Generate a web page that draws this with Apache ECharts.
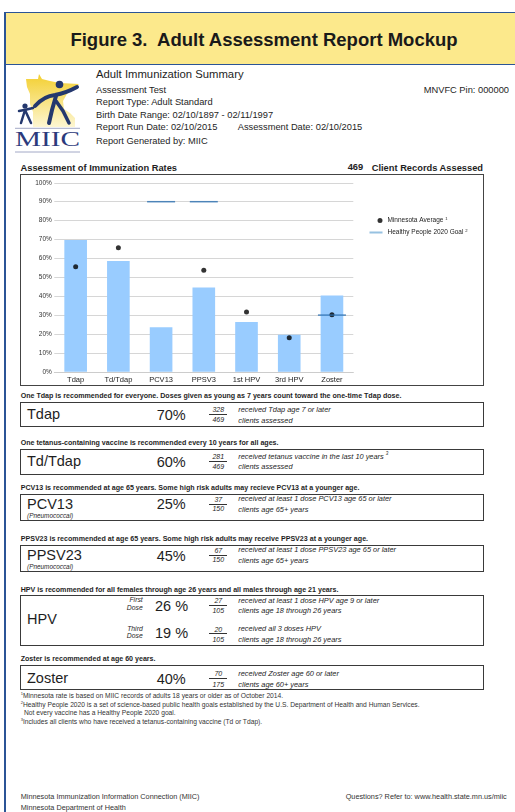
<!DOCTYPE html>
<html><head><meta charset="utf-8">
<script src="https://cdn.jsdelivr.net/npm/echarts@6/dist/echarts.min.js"></script>
<style>
html,body{margin:0;padding:0;background:#fff;}
#page{position:relative;width:515px;height:812px;overflow:hidden;font-family:'Liberation Sans',Arial,sans-serif;color:#1e1e1e;}
.t{position:absolute;white-space:nowrap;line-height:1;}
.box{position:absolute;left:19.5px;width:462px;border:1.5px solid #3a3a3a;}
.fl{position:absolute;height:0;border-top:0.9px solid #333;width:18px;}
</style></head>
<body><div id="page">
<div style="position:absolute;left:4px;top:11.5px;width:530px;height:51px;background:#fce98c;border:1.5px solid #2b5496;"></div>
<div style="position:absolute;left:4px;top:11.5px;width:1.5px;height:820px;background:#2b5496;"></div>
<svg style="position:absolute;left:0;top:0" width="100" height="160" viewBox="0 0 100 160">
<defs><linearGradient id="g" x1="0" y1="0" x2="0" y2="1"><stop offset="0" stop-color="#f3cf2f"/><stop offset="1" stop-color="#fdf6d2"/></linearGradient></defs>
<polygon fill="url(#g)" points="26,79 38,79 39,74 42,79 50,81 60,83 79,84 67,94 63,101 64,109 70,113 75,118 75,127 33,127 33,112 30,104 30,94 27,87"/>
<g fill="#24386e" stroke="#24386e">
<circle cx="59.5" cy="84.5" r="3.8" stroke="none"/>
<path d="M35,106 Q44,96 55,95 Q66,93 77,87" fill="none" stroke-width="4" stroke-linecap="round"/>
<path d="M56,96 L52,110 L49,123" fill="none" stroke-width="4" stroke-linecap="round"/>
<path d="M56,101 L63,111 L69,123" fill="none" stroke-width="3.5" stroke-linecap="round"/>
<circle cx="25" cy="106" r="2.6" stroke="none"/>
<path d="M19,111 Q25,110 33,108" fill="none" stroke-width="2.5" stroke-linecap="round"/>
<path d="M25,110 L21,123 M25,110 L31,123" fill="none" stroke-width="2.5" stroke-linecap="round"/>
</g>
<line x1="15" y1="128.3" x2="80" y2="128.3" stroke="#8a93b8" stroke-width="0.8"/>
<text x="15" y="146" font-family="Liberation Serif" font-size="22" fill="#2b3a7c" textLength="65" lengthAdjust="spacingAndGlyphs">MIIC</text>
<line x1="15" y1="152" x2="80" y2="152" stroke="#8a93b8" stroke-width="0.8"/>
</svg>
<div style="position:absolute;left:19.5px;top:174px;width:462px;height:210px;border:1.5px solid #444;"><div id="chart" style="width:462px;height:210px"></div></div>
</div>
<script>
const categories = ['Tdap', 'Td/Tdap', 'PCV13', 'PPSV3', '1st HPV', '3rd HPV', 'Zoster'];
const rateValues = [69.7, 58.6, 23.6, 44.6, 26.3, 19.6, 40.4];
const mnAverage = [55.6, 65.6, null, 53.7, 31.7, 18.0, 30.2];
const hp2020Goal = [null, null, 90, 90, null, null, 30];
const seriesNames = ['Minnesota Average', 'Healthy People 2020 Goal'];

const page = document.getElementById('page');
function T(x, y, s, size, o) {
  o = o || {};
  const d = document.createElement('div');
  d.className = 't';
  d.innerHTML = s;
  d.style.left = x + 'px';
  d.style.top = (y - size * 0.5) + 'px';
  d.style.fontSize = size + 'px';
  if (o.b) d.style.fontWeight = 'bold';
  if (o.i) d.style.fontStyle = 'italic';
  if (o.c) d.style.color = o.c;
  if (o.a === 'r') d.style.transform = 'translateX(-100%)';
  if (o.a === 'c') d.style.transform = 'translateX(-50%)';
  page.appendChild(d);
}
function B(top, bottom) {
  const d = document.createElement('div');
  d.className = 'box';
  d.style.top = top + 'px';
  d.style.height = (bottom - top - 3) + 'px';
  page.appendChild(d);
}
function F(num, den, yn, yl, yd) {
  T(218.3, yn, num, 7, {i: 1, a: 'c'});
  const l = document.createElement('div');
  l.className = 'fl';
  l.style.left = '209.3px';
  l.style.top = yl + 'px';
  page.appendChild(l);
  T(218.3, yd, den, 7, {i: 1, a: 'c'});
}
const sup = n => '<span style="font-size:60%;vertical-align:top;position:relative;top:-1px">' + n + '</span>';
const H = 7.1, D = 7.4, N = 14.5;

// Title + header
T(264, 40, 'Figure 3.&nbsp; Adult Assessment Report Mockup', 18.5, {b: 1, a: 'c', c: '#1a1a1a'});
T(96, 75, 'Adult Immunization Summary', 11.3);
T(96, 90.7, 'Assessment Test', 9.3);
T(96, 102.7, 'Report Type: Adult Standard', 9.3);
T(96, 115.3, 'Birth Date Range: 02/10/1897 - 02/11/1997', 9.3);
T(96, 127.7, 'Report Run Date: 02/10/2015', 9.3);
T(237.7, 127.7, 'Assessment Date: 02/10/2015', 9.3);
T(96, 141.7, 'Report Generated by: MIIC', 9.3);
T(509, 90.7, 'MNVFC Pin: 000000', 9.3, {a: 'r'});

T(20.5, 168.3, 'Assessment of Immunization Rates', 9.3, {b: 1});
T(347.7, 168, '469', 9.3, {b: 1});
T(483, 168.3, 'Client Records Assessed', 9.3, {b: 1, a: 'r'});

// Tdap
T(20.7, 397, 'One Tdap is recommended for everyone. Doses given as young as 7 years count toward the one-time Tdap dose.', H, {b: 1});
B(401.5, 427.5);
T(27, 414.5, 'Tdap', N); T(156.7, 415.5, '70%', N);
F('328', '469', 409.3, 414.3, 419.8);
T(238.3, 409.3, 'received Tdap age 7 or later', D, {i: 1});
T(238.3, 420.3, 'clients assessed', D, {i: 1});

// Td/Tdap
T(20.7, 443.5, 'One tetanus-containing vaccine is recommended every 10 years for all ages.', H, {b: 1});
B(448.5, 475.5);
T(27, 461.5, 'Td/Tdap', N); T(156.7, 462, '60%', N);
F('281', '469', 456.5, 461, 466.3);
T(238.3, 456.5, 'received tetanus vaccine in the last 10 years ' + sup('3'), D, {i: 1});
T(238.3, 466.5, 'clients assessed', D, {i: 1});

// PCV13
T(20.7, 488.5, 'PCV13 is recommended at age 65 years. Some high risk adults may recieve PCV13 at a younger age.', H, {b: 1});
B(493.5, 522);
T(27, 504, 'PCV13', N); T(156.7, 504.5, '25%', N);
T(27, 516.5, '(Pneumococcal)', 6.4, {i: 1});
F('37', '150', 499, 503.6, 508.3);
T(238.3, 499, 'received at least 1 dose PCV13 age 65 or later', D, {i: 1});
T(238.3, 510, 'clients age 65+ years', D, {i: 1});

// PPSV23
T(20.7, 539.5, 'PPSV23 is recommended at age 65 years. Some high risk adults may receive PPSV23 at a younger age.', H, {b: 1});
B(544.5, 572.5);
T(27, 555.5, 'PPSV23', N); T(156.7, 556, '45%', N);
T(27, 567.5, '(Pneumococcal)', 6.4, {i: 1});
F('67', '150', 550.3, 554.8, 559.6);
T(238.3, 550, 'received at least 1 dose PPSV23 age 65 or later', D, {i: 1});
T(238.3, 561, 'clients age 65+ years', D, {i: 1});

// HPV
T(20.7, 590.5, 'HPV is recommended for all females through age 26 years and all males through age 21 years.', H, {b: 1});
B(595, 647);
T(27, 619.5, 'HPV', N);
T(142.7, 600.7, 'First', 6.8, {i: 1, a: 'r'}); T(142.7, 608, 'Dose', 6.8, {i: 1, a: 'r'});
T(155, 606.7, '26 %', N);
F('27', '105', 600.7, 604.6, 610);
T(238.3, 600.3, 'received at least 1 dose HPV age 9 or later', D, {i: 1});
T(238.3, 610.3, 'clients age 18 through 26 years', D, {i: 1});
T(142.7, 629.5, 'Third', 6.8, {i: 1, a: 'r'}); T(142.7, 636.8, 'Dose', 6.8, {i: 1, a: 'r'});
T(155, 633, '19 %', N);
F('20', '105', 629, 633.3, 639.3);
T(238.3, 629, 'received all 3 doses HPV', D, {i: 1});
T(238.3, 639.5, 'clients age 18 through 26 years', D, {i: 1});

// Zoster
T(20.7, 659.5, 'Zoster is recommended at age 60 years.', H, {b: 1});
B(665, 690.5);
T(27, 678.5, 'Zoster', N); T(156.7, 679, '40%', N);
F('70', '175', 673.5, 678.2, 684.3);
T(238.3, 673.8, 'received Zoster age 60 or later', D, {i: 1});
T(238.3, 684.8, 'clients age 60+ years', D, {i: 1});

// footnotes
T(20.7, 696.7, sup('1') + 'Minnesota rate is based on MIIC records of adults 18 years or older as of October 2014.', 6.7, {c: '#333'});
T(20.7, 705, sup('2') + 'Healthy People 2020 is a set of science-based public health goals established by the U.S. Department of Health and Human Services.', 6.7, {c: '#333'});
T(24, 713, 'Not every vaccine has a Healthy People 2020 goal.', 6.7, {c: '#333'});
T(20.7, 722, sup('3') + 'Includes all clients who have received a tetanus-containing vaccine (Td or Tdap).', 6.7, {c: '#333'});

// footer
T(20.7, 797, 'Minnesota Immunization Information Connection (MIIC)', 7.3, {c: '#333'});
T(20.7, 808, 'Minnesota Department of Health', 7.3, {c: '#333'});
T(506.7, 797, 'Questions? Refer to: www.health.state.mn.us/miic', 7.3, {c: '#333', a: 'r'});

// chart
const chart = echarts.init(document.getElementById('chart'), null, {renderer: 'canvas'});
const FONT = 'Liberation Sans';
chart.setOption({
  animation: false,
  grid: {left: 33.3, top: 7.8, width: 299, height: 189},
  xAxis: {
    type: 'category', data: categories,
    axisLine: {lineStyle: {color: '#cccccc', width: 1}},
    axisTick: {show: false},
    axisLabel: {fontSize: 7.5, color: '#222', margin: 4, fontFamily: FONT}
  },
  yAxis: {
    type: 'value', min: 0, max: 100, interval: 10,
    axisLine: {show: false}, axisTick: {show: false},
    axisLabel: {formatter: '{value}%', fontSize: 6.5, color: '#333', margin: 2.5, fontFamily: FONT},
    splitLine: {lineStyle: {color: '#d6d6d6', width: 1}}
  },
  legend: {
    orient: 'vertical', left: 343.5, top: 37, itemWidth: 13, itemHeight: 6, itemGap: 5,
    selectedMode: false,
    formatter: function (n) { return '{t|' + n + '} {s|' + (n === seriesNames[0] ? '1' : '2') + '}'; },
    textStyle: {
      fontFamily: FONT, fontSize: 6.5, color: '#222',
      rich: {t: {fontSize: 6.5, fontFamily: FONT, color: '#222'}, s: {fontSize: 4.2, fontFamily: FONT, color: '#222', verticalAlign: 'top', padding: [0, 0, 3, 0]}}
    },
    data: [
      {name: seriesNames[0], icon: 'path://M0,0L0.01,0L0,0.01Z M8,2.5A2.5,2.5 0 1 1 13,2.5A2.5,2.5 0 1 1 8,2.5Z', itemStyle: {color: '#000'}},
      {name: seriesNames[1], icon: 'path://M0,0H13V2H0Z', itemStyle: {color: '#7db3d9'}}
    ]
  },
  series: [
    {type: 'bar', name: 'Rate', data: rateValues, barWidth: '53%', itemStyle: {color: '#99ccff'}, z: 1},
    {type: 'scatter', name: seriesNames[0], data: mnAverage, symbol: 'circle', symbolSize: 5, itemStyle: {color: '#000'}, z: 3},
    {type: 'scatter', name: seriesNames[1], data: hp2020Goal, symbol: 'rect', symbolSize: [28, 1.5], itemStyle: {color: '#2a6fb0'}, z: 4}
  ]
});
</script>
</body></html>
